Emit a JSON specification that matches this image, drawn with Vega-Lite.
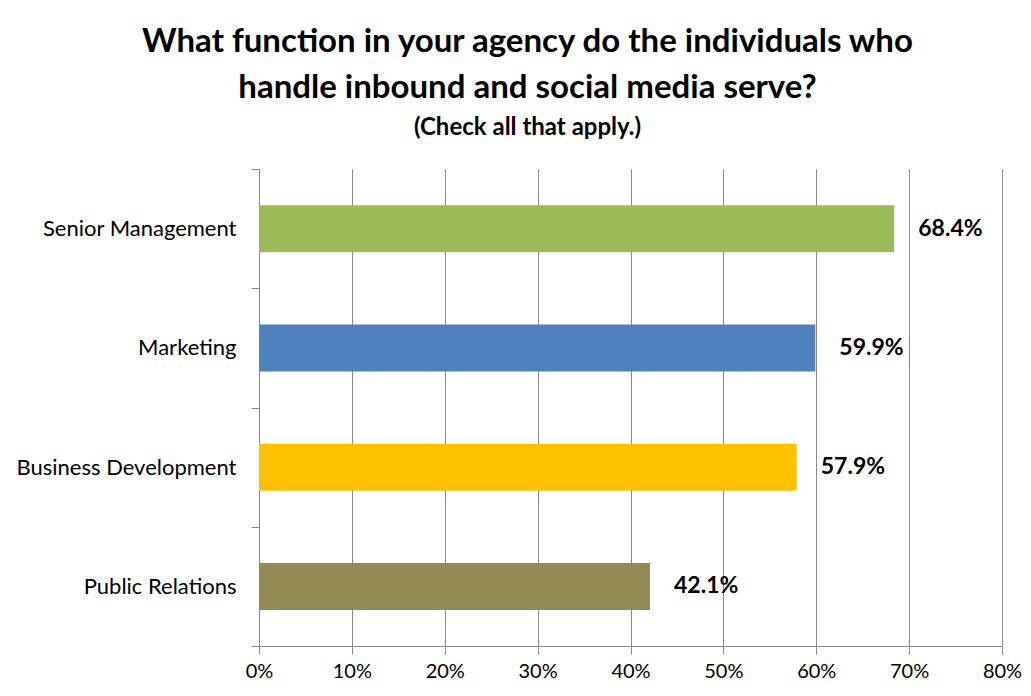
{
  "$schema": "https://vega.github.io/schema/vega-lite/v6.json",
  "width": 743,
  "height": 477,
  "autosize": {"type": "none"},
  "padding": {"left": 259, "top": 169, "right": 29, "bottom": 50},
  "background": "white",
  "title": {
    "text": ["What function in your agency do the individuals who", "handle inbound and social media serve?"],
    "subtitle": "(Check all that apply.)",
    "font": "Lato",
    "fontSize": 33,
    "fontWeight": "bold",
    "lineHeight": 46,
    "color": "black",
    "subtitleFont": "Lato",
    "subtitleFontSize": 24,
    "subtitleFontWeight": "bold",
    "subtitleColor": "black",
    "subtitlePadding": 11,
    "anchor": "middle",
    "dx": -103,
    "offset": 18
  },
  "config": {"view": {"stroke": null}},
  "data": {
    "values": [
      {"function": "Senior Management", "share": 0.684},
      {"function": "Marketing", "share": 0.599},
      {"function": "Business Development", "share": 0.579},
      {"function": "Public Relations", "share": 0.421}
    ]
  },
  "encoding": {
    "y": {
      "field": "function",
      "type": "nominal",
      "sort": null,
      "scale": {"paddingInner": 0, "paddingOuter": 0},
      "axis": {
        "title": null,
        "labelFont": "Lato",
        "labelFontSize": 22,
        "labelColor": "black",
        "labelPadding": 15,
        "labelLimit": 300,
        "tickBand": "extent",
        "tickSize": 8,
        "tickColor": "#888888",
        "domainColor": "#888888"
      }
    },
    "x": {
      "field": "share",
      "type": "quantitative",
      "scale": {"domain": [0, 0.8], "nice": false},
      "axis": {
        "title": null,
        "format": "%",
        "values": [0, 0.1, 0.2, 0.3, 0.4, 0.5, 0.6, 0.7, 0.8],
        "grid": true,
        "gridColor": "#888888",
        "gridOpacity": 1,
        "domainColor": "#888888",
        "tickColor": "#888888",
        "tickSize": 8,
        "labelFont": "Lato",
        "labelFontSize": 20,
        "labelColor": "black",
        "labelPadding": 7,
        "labelFlush": false
      }
    }
  },
  "layer": [
    {
      "mark": {"type": "bar", "size": 47},
      "encoding": {
        "color": {
          "field": "function",
          "type": "nominal",
          "scale": {
            "domain": ["Senior Management", "Marketing", "Business Development", "Public Relations"],
            "range": ["#9BBB59", "#4F81BD", "#FFC000", "#948A54"]
          },
          "legend": null
        }
      }
    },
    {
      "mark": {"type": "text", "align": "left", "baseline": "middle", "dx": 24, "font": "Lato", "fontSize": 23, "fontWeight": "bold", "color": "black"},
      "encoding": {
        "text": {"field": "share", "type": "quantitative", "format": ".1%"}
      }
    }
  ]
}
